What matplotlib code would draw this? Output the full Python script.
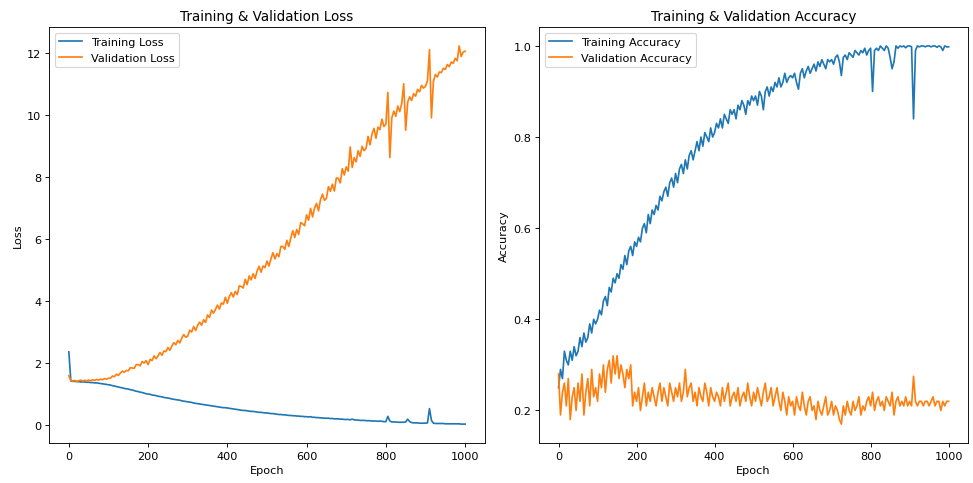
import numpy as np
import matplotlib
matplotlib.use("Agg")
import matplotlib.pyplot as plt

epochs = list(range(0, 1001, 5))

train_loss = [
    2.35, 1.41, 1.40, 1.40, 1.39, 1.39, 1.38, 1.38, 1.38, 1.37,
    1.37, 1.36, 1.36, 1.35, 1.35, 1.34, 1.33, 1.32, 1.31, 1.30,
    1.29, 1.28, 1.26, 1.25, 1.23, 1.22, 1.20, 1.19, 1.17, 1.16,
    1.15, 1.13, 1.12, 1.10, 1.08, 1.07, 1.05, 1.04, 1.02, 1.00,
    0.99, 0.98, 0.96, 0.95, 0.94, 0.92, 0.91, 0.90, 0.88, 0.87,
    0.86, 0.85, 0.83, 0.82, 0.81, 0.80, 0.79, 0.77, 0.76, 0.75,
    0.74, 0.73, 0.72, 0.70, 0.69, 0.68, 0.67, 0.66, 0.65, 0.64,
    0.63, 0.62, 0.61, 0.60, 0.59, 0.58, 0.57, 0.56, 0.55, 0.55,
    0.54, 0.53, 0.52, 0.51, 0.50, 0.49, 0.48, 0.47, 0.46, 0.46,
    0.45, 0.44, 0.43, 0.43, 0.42, 0.41, 0.40, 0.40, 0.39, 0.38,
    0.38, 0.37, 0.36, 0.36, 0.35, 0.34, 0.33, 0.33, 0.32, 0.32,
    0.31, 0.30, 0.30, 0.29, 0.29, 0.28, 0.28, 0.27, 0.27, 0.26,
    0.26, 0.25, 0.26, 0.24, 0.24, 0.23, 0.23, 0.22, 0.22, 0.21,
    0.21, 0.21, 0.20, 0.20, 0.19, 0.19, 0.19, 0.18, 0.18, 0.17,
    0.17, 0.17, 0.16, 0.18, 0.16, 0.15, 0.15, 0.14, 0.14, 0.14,
    0.13, 0.13, 0.13, 0.12, 0.12, 0.12, 0.11, 0.12, 0.11, 0.10,
    0.10, 0.27, 0.12, 0.09, 0.09, 0.09, 0.08, 0.08, 0.08, 0.08,
    0.09, 0.18, 0.10, 0.07, 0.06, 0.06, 0.06, 0.05, 0.05, 0.05,
    0.05, 0.06, 0.52, 0.14, 0.05, 0.04, 0.04, 0.04, 0.04, 0.04,
    0.03, 0.03, 0.03, 0.03, 0.03, 0.03, 0.03, 0.03, 0.02, 0.02,
    0.02,
]

val_loss = [
    1.58, 1.42, 1.41, 1.43, 1.40, 1.42, 1.44, 1.41, 1.43, 1.42,
    1.44, 1.42, 1.45, 1.43, 1.46, 1.44, 1.47, 1.45, 1.49, 1.47,
    1.50, 1.50, 1.57, 1.55, 1.63, 1.59, 1.67, 1.73, 1.69, 1.75,
    1.74, 1.84, 1.83, 1.82, 1.94, 1.94, 1.90, 2.04, 1.99, 2.07,
    1.94, 2.11, 2.07, 2.22, 2.13, 2.22, 2.33, 2.24, 2.38, 2.36,
    2.49, 2.40, 2.54, 2.65, 2.58, 2.72, 2.64, 2.80, 2.91, 2.82,
    2.86, 3.05, 2.99, 3.17, 3.04, 3.21, 3.31, 3.21, 3.39, 3.30,
    3.54, 3.46, 3.70, 3.60, 3.72, 3.86, 3.73, 3.93, 3.89, 4.11,
    3.92, 4.14, 4.26, 4.12, 4.30, 4.20, 4.48, 4.46, 4.41, 4.69,
    4.52, 4.80, 4.67, 4.87, 4.72, 4.96, 5.11, 4.92, 5.12, 5.07,
    5.28, 5.12, 5.35, 5.55, 5.35, 5.52, 5.42, 5.75, 5.75, 5.66,
    5.95, 5.75, 6.02, 6.26, 6.04, 6.30, 6.14, 6.52, 6.48, 6.42,
    6.77, 6.60, 6.98, 6.70, 6.99, 7.14, 6.90, 7.26, 7.44, 7.24,
    7.30, 7.68, 7.53, 7.76, 7.54, 7.96, 7.95, 7.80, 8.26, 8.06,
    8.32, 8.18, 8.96, 8.30, 8.62, 8.48, 8.84, 8.66, 8.98, 8.84,
    8.92, 9.30, 9.03, 9.38, 9.56, 9.24, 9.60, 9.52, 9.86, 9.62,
    9.70, 10.72, 8.62, 9.90, 10.12, 9.95, 10.28, 10.10, 10.36, 11.00,
    9.50, 10.40, 10.58, 10.46, 10.68, 10.60, 10.82, 10.74, 10.95, 10.86,
    10.92, 11.10, 12.10, 9.90, 11.08, 11.30, 11.22, 11.38, 11.36, 11.50,
    11.46, 11.62, 11.55, 11.70, 11.66, 11.82, 11.74, 12.22, 11.88, 12.02,
    12.05,
]

train_acc = [
    0.25, 0.29, 0.27, 0.33, 0.31, 0.30, 0.33, 0.31, 0.34, 0.32,
    0.33, 0.36, 0.34, 0.37, 0.35, 0.36, 0.39, 0.37, 0.40, 0.39,
    0.40, 0.42, 0.41, 0.44, 0.45, 0.43, 0.47, 0.46, 0.49, 0.48,
    0.50, 0.49, 0.52, 0.51, 0.54, 0.52, 0.55, 0.56, 0.54, 0.57,
    0.56, 0.58, 0.57, 0.60, 0.61, 0.59, 0.63, 0.61, 0.64, 0.63,
    0.65, 0.64, 0.67, 0.66, 0.68, 0.69, 0.67, 0.70, 0.71, 0.69,
    0.72, 0.70, 0.73, 0.74, 0.72, 0.75, 0.73, 0.76, 0.77, 0.75,
    0.77, 0.79, 0.77, 0.80, 0.78, 0.81, 0.80, 0.79, 0.82, 0.80,
    0.81, 0.83, 0.82, 0.84, 0.82, 0.85, 0.84, 0.83, 0.86, 0.85,
    0.86, 0.84, 0.87, 0.86, 0.88, 0.87, 0.85, 0.88, 0.87, 0.89,
    0.88, 0.89, 0.87, 0.90, 0.89, 0.86, 0.90, 0.91, 0.89, 0.91,
    0.90, 0.92, 0.91, 0.93, 0.91, 0.92, 0.94, 0.92, 0.93, 0.935,
    0.93, 0.94, 0.92, 0.905, 0.94, 0.95, 0.93, 0.945, 0.955, 0.94,
    0.95, 0.96, 0.945, 0.965, 0.955, 0.97, 0.96, 0.95, 0.97, 0.965,
    0.97, 0.96, 0.975, 0.98, 0.965, 0.935, 0.975, 0.98, 0.97, 0.985,
    0.98, 0.975, 0.99, 0.985, 0.98, 0.99, 0.985, 0.995, 0.98, 0.99,
    0.995, 0.90, 0.99, 0.995, 0.99, 1.0, 0.995, 0.99, 1.0, 0.995,
    0.975, 0.95, 0.965, 1.0, 0.995, 1.0, 0.998, 1.0, 0.996, 1.0,
    1.0, 0.998, 0.84, 0.99, 1.0, 0.998, 1.0, 1.0, 0.998, 1.0,
    1.0, 0.998, 1.0, 1.0, 0.997, 1.0, 0.998, 0.99, 1.0, 0.998,
    0.998,
]

val_acc = [
    0.28, 0.19, 0.24, 0.26, 0.21, 0.27, 0.18, 0.23, 0.25, 0.20,
    0.26, 0.22, 0.28, 0.19, 0.24, 0.27, 0.21, 0.29, 0.23, 0.25,
    0.22, 0.28, 0.25, 0.30, 0.24, 0.29, 0.31, 0.26, 0.32, 0.28,
    0.32, 0.27, 0.30, 0.28, 0.25, 0.29, 0.27, 0.30, 0.21, 0.24,
    0.22, 0.25, 0.20, 0.23, 0.26, 0.21, 0.24, 0.22, 0.25, 0.23,
    0.21, 0.24, 0.26, 0.22, 0.25, 0.23, 0.21, 0.26, 0.24, 0.22,
    0.25, 0.23, 0.26, 0.22, 0.24, 0.29, 0.23, 0.25, 0.26, 0.22,
    0.24, 0.21, 0.25, 0.23, 0.22, 0.26, 0.24, 0.21, 0.25, 0.23,
    0.22, 0.24, 0.23, 0.21, 0.25, 0.22, 0.24, 0.26, 0.21, 0.23,
    0.24, 0.22, 0.25, 0.21, 0.23, 0.24, 0.22, 0.26, 0.23, 0.21,
    0.24, 0.22, 0.25, 0.23, 0.21, 0.24, 0.26, 0.22, 0.23, 0.25,
    0.21, 0.23, 0.25, 0.22, 0.20, 0.24, 0.22, 0.19, 0.23, 0.21,
    0.22, 0.19, 0.23, 0.21, 0.20, 0.24, 0.21, 0.19, 0.22, 0.23,
    0.20, 0.21, 0.18, 0.22, 0.20, 0.19, 0.21, 0.23, 0.19, 0.20,
    0.22, 0.19, 0.21, 0.20, 0.18, 0.17, 0.21, 0.19, 0.22, 0.20,
    0.19, 0.22, 0.20, 0.21, 0.23, 0.19, 0.21, 0.20, 0.22, 0.23,
    0.21, 0.24, 0.20, 0.22, 0.23, 0.21, 0.22, 0.20, 0.23, 0.22,
    0.21, 0.24, 0.19, 0.22, 0.23, 0.21, 0.22, 0.21, 0.23, 0.21,
    0.22, 0.21, 0.275, 0.22, 0.21, 0.22, 0.22, 0.21, 0.22, 0.22,
    0.21, 0.22, 0.23, 0.21, 0.22, 0.22, 0.20, 0.22, 0.21, 0.22,
    0.22,
]

DPI = 81.08
fig = plt.figure(figsize=(973 / DPI, 484 / DPI), dpi=DPI)
ax1 = fig.add_axes([0.0504, 0.0826, 0.448, 0.8595])
ax2 = fig.add_axes([0.554, 0.0826, 0.441, 0.8595])

ax1.plot(epochs, train_loss, label="Training Loss")
ax1.plot(epochs, val_loss, label="Validation Loss")
ax1.set_title("Training & Validation Loss")
ax1.set_xlabel("Epoch")
ax1.set_ylabel("Loss")
ax1.legend(loc="upper left")

ax2.plot(epochs, train_acc, label="Training Accuracy")
ax2.plot(epochs, val_acc, label="Validation Accuracy")
ax2.set_title("Training & Validation Accuracy")
ax2.set_xlabel("Epoch")
ax2.set_ylabel("Accuracy")
ax2.legend(loc="upper left")

fig.savefig("out.png", dpi=DPI)
